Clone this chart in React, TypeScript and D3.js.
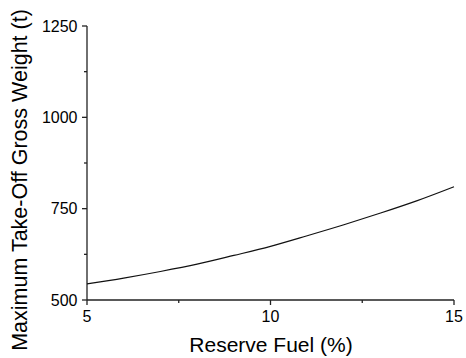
import React from "react";
import * as d3 from "d3";

const reserveFuel = [5, 6, 7, 8, 9, 10, 11, 12, 13, 14, 15];
const mtogw = [544, 560, 578, 598, 622, 647, 676, 706, 738, 772, 810];
const xTicks = [5, 10, 15];
const xMinor = [7.5, 12.5];
const yTicks = [500, 750, 1000, 1250];
const yMinor = [625, 875, 1125];

const W = 466;
const H = 358;
const font = "Arial, 'Liberation Sans', sans-serif";

export default function App() {
  const x = d3.scaleLinear().domain([5, 15]).range([87, 454]);
  const y = d3.scaleLinear().domain([500, 1250]).range([300, 26]);
  const line = d3
    .line<number>()
    .x((d, i) => x(reserveFuel[i]))
    .y((d) => y(d))
    .curve(d3.curveMonotoneX);

  return (
    <svg
      width={W}
      height={H}
      style={{ position: "absolute", left: 0, top: 0, background: "#fff" }}
      fontFamily={font}
    >
      {/* axes */}
      <line x1={x(5)} x2={x(15)} y1={y(500)} y2={y(500)} stroke="#222" strokeWidth={1.3} />
      <line x1={x(5)} x2={x(5)} y1={y(500)} y2={y(1250)} stroke="#222" strokeWidth={1.3} />

      {xTicks.map((t) => (
        <g key={"x" + t}>
          <line x1={x(t)} x2={x(t)} y1={y(500)} y2={y(500) + 5} stroke="#222" strokeWidth={1.3} />
          <text x={x(t)} y={321.7} textAnchor="middle" fontSize={16}>
            {t}
          </text>
        </g>
      ))}
      {xMinor.map((t) => (
        <line key={"xm" + t} x1={x(t)} x2={x(t)} y1={y(500)} y2={y(500) + 3} stroke="#222" strokeWidth={1.3} />
      ))}

      {yTicks.map((t) => (
        <g key={"y" + t}>
          <line x1={x(5) - 5} x2={x(5)} y1={y(t)} y2={y(t)} stroke="#222" strokeWidth={1.3} />
          <text x={77.5} y={y(t)} dy="0.36em" textAnchor="end" fontSize={16}>
            {t}
          </text>
        </g>
      ))}
      {yMinor.map((t) => (
        <line key={"ym" + t} x1={x(5) - 3} x2={x(5)} y1={y(t)} y2={y(t)} stroke="#222" strokeWidth={1.3} />
      ))}

      <path d={line(mtogw) ?? ""} fill="none" stroke="#111" strokeWidth={1.2} />

      <text x={271} y={352} textAnchor="middle" fontSize={21}>
        Reserve Fuel (%)
      </text>
      <text
        transform={`translate(27,180) rotate(-90)`}
        textAnchor="middle"
        fontSize={21.5}
      >
        Maximum Take-Off Gross Weight (t)
      </text>
    </svg>
  );
}
